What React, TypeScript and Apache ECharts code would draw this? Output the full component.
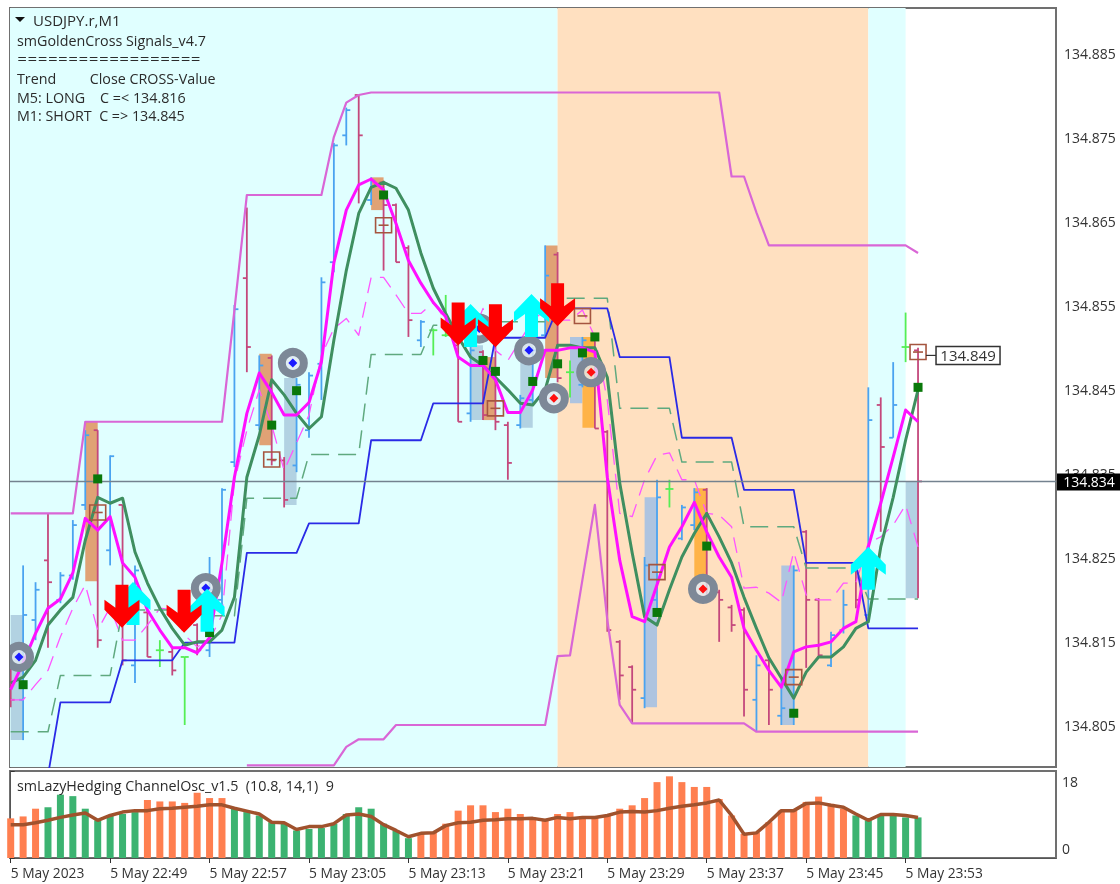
import React, { useEffect, useRef } from "react";
import * as echarts from "echarts";

const FONT = '"Open Sans", "Noto Sans", sans-serif';

const timeLabels = ["5 May 2023", "5 May 22:49", "5 May 22:57", "5 May 23:05", "5 May 23:13", "5 May 23:21", "5 May 23:29", "5 May 23:37", "5 May 23:45", "5 May 23:53"];
const timeTicks = [0, 8, 16, 24, 32, 40, 48, 56, 64, 72];
const priceTicks = [134.805, 134.815, 134.825, 134.835, 134.845, 134.855, 134.865, 134.875, 134.885];
const legendLines = ["smGoldenCross Signals_v4.7", "==================", "Trend         Close CROSS-Value", "M5: LONG    C =< 134.816", "M1: SHORT  C => 134.845"];

const candleKinds = ["R","B","B","R","B","B","B","R","B","R","B","R","G","R","G","R","B","B","B","R","B","R","R","B","B","B","B","B","R","B","R","R","R","B","G","G","R","B","R","R","R","B","B","B","R","G","B","R","R","R","R","B","B","G","B","B","R","R","R","R","B","R","B","B","R","R","B","B","R","B","R","B","G","R"];
const candleHigh = [134.8124,134.8240,134.8220,134.8302,134.8232,134.8294,134.8401,134.8401,134.8371,134.8312,134.8240,134.8187,134.8151,134.8142,134.8131,134.8171,134.8250,134.8332,134.8550,134.8666,134.8490,134.8490,134.8369,134.8463,134.8470,134.8583,134.8743,134.8785,134.8800,134.8702,134.8698,134.8671,134.8621,134.8532,134.8522,134.8562,134.8506,134.8502,134.8496,134.8512,134.8411,134.8443,134.8500,134.8621,134.8613,134.8484,134.8512,134.8512,134.8401,134.8151,134.8121,134.8250,134.8342,134.8342,134.8312,134.8332,134.8332,134.8211,134.8193,134.8190,134.8133,134.8131,134.8107,134.8240,134.8282,134.8201,134.8161,134.8211,134.8238,134.8452,134.8440,134.8482,134.8541,134.8499];
const candleLow = [134.8071,134.8032,134.8151,134.8142,134.8195,134.8223,134.8306,134.8142,134.8240,134.8121,134.8100,134.8131,134.8119,134.8109,134.8050,134.8133,134.8131,134.8190,134.8357,134.8470,134.8401,134.8359,134.8309,134.8351,134.8392,134.8437,134.8589,134.8740,134.8671,134.8669,134.8591,134.8601,134.8512,134.8500,134.8490,134.8512,134.8411,134.8411,134.8413,134.8401,134.8342,134.8403,134.8433,134.8512,134.8458,134.8440,134.8452,134.8403,134.8161,134.8080,134.8052,134.8070,134.8187,134.8309,134.8270,134.8282,134.8199,134.8149,134.8161,134.8060,134.8042,134.8050,134.8050,134.8050,134.8118,134.8130,134.8119,134.8159,134.8189,134.8175,134.8280,134.8392,134.8482,134.8201];
const candleOpen = [134.8115,134.8080,134.8175,134.8246,134.8199,134.8228,134.8312,134.8401,134.8258,134.8312,134.8121,134.8184,134.8139,134.8137,134.8131,134.8169,134.8139,134.8199,134.8363,134.8582,134.8407,134.8487,134.8365,134.8359,134.8401,134.8480,134.8601,134.8752,134.8800,134.8675,134.8696,134.8669,134.8618,134.8508,134.8520,134.8514,134.8502,134.8421,134.8494,134.8508,134.8407,134.8407,134.8437,134.8514,134.8610,134.8470,134.8455,134.8508,134.8399,134.8149,134.8119,134.8082,134.8199,134.8331,134.8272,134.8288,134.8330,134.8208,134.8190,134.8187,134.8080,134.8127,134.8061,134.8062,134.8280,134.8199,134.8121,134.8163,134.8234,134.8181,134.8431,134.8392,134.8500,134.8496];
const candleClose = [134.8080,134.8181,134.8211,134.8220,134.8228,134.8288,134.8395,134.8151,134.8370,134.8127,134.8234,134.8131,134.8139,134.8115,134.8131,134.8139,134.8211,134.8330,134.8545,134.8500,134.8478,134.8365,134.8318,134.8455,134.8466,134.8577,134.8740,134.8782,134.8752,134.8698,134.8669,134.8601,134.8532,134.8530,134.8520,134.8514,134.8411,134.8496,134.8419,134.8411,134.8362,134.8439,134.8496,134.8585,134.8463,134.8470,134.8508,134.8403,134.8163,134.8109,134.8092,134.8240,134.8321,134.8331,134.8309,134.8327,134.8226,134.8199,134.8169,134.8092,134.8121,134.8092,134.8070,134.8234,134.8199,134.8133,134.8157,134.8193,134.8199,134.8413,134.8381,134.8431,134.8500,134.8340];

const fastLine = [134.8092,134.8124,134.8159,134.8189,134.8200,134.8231,134.8296,134.8282,134.8298,134.8243,134.8226,134.8187,134.8163,134.8142,134.8142,134.8136,134.8154,134.8243,134.8345,134.8421,134.8469,134.8446,134.8419,134.8419,134.8434,134.8482,134.8600,134.8663,134.8693,134.8700,134.8687,134.8647,134.8603,134.8576,134.8553,134.8536,134.8488,134.8478,134.8478,134.8461,134.8422,134.8422,134.8449,134.8496,134.8496,134.8499,134.8499,134.8494,134.8345,134.8246,134.8179,134.8173,134.8217,134.8262,134.8286,134.8315,134.8280,134.8250,134.8226,134.8165,134.8139,134.8115,134.8095,134.8137,134.8143,134.8145,134.8149,134.8165,134.8173,134.8262,134.8314,134.8369,134.8425,134.8411];
const slowLine = [134.8100,134.8107,134.8127,134.8169,134.8187,134.8202,134.8270,134.8321,134.8314,134.8320,134.8256,134.8219,134.8189,134.8165,134.8145,134.8149,134.8149,134.8163,134.8202,134.8345,134.8395,134.8461,134.8443,134.8421,134.8403,134.8417,134.8508,134.8591,134.8659,134.8690,134.8696,134.8689,134.8663,134.8612,134.8570,134.8540,134.8512,134.8488,134.8478,134.8464,134.8449,134.8433,134.8431,134.8449,134.8502,134.8502,134.8499,134.8499,134.8464,134.8338,134.8255,134.8179,134.8169,134.8211,134.8250,134.8278,134.8302,134.8274,134.8243,134.8202,134.8165,134.8130,134.8106,134.8082,134.8113,134.8131,134.8131,134.8143,134.8165,134.8173,134.8262,134.8321,134.8389,134.8449];
const midDashLine = [134.8080,134.8080,134.8098,134.8115,134.8155,134.8189,134.8217,134.8163,134.8190,134.8151,134.8151,134.8169,134.8189,134.8187,134.8157,134.8143,134.8151,134.8181,134.8339,134.8401,134.8449,134.8407,134.8353,134.8386,134.8419,134.8490,134.8522,134.8534,134.8514,134.8583,134.8583,134.8562,134.8540,134.8540,134.8553,134.8532,134.8520,134.8508,134.8546,134.8496,134.8484,134.8508,134.8532,134.8544,134.8532,134.8532,134.8544,134.8512,134.8437,134.8302,134.8298,134.8342,134.8371,134.8374,134.8342,134.8342,134.8302,134.8300,134.8286,134.8213,134.8214,134.8207,134.8196,134.8256,134.8205,134.8199,134.8199,134.8219,134.8219,134.8267,134.8274,134.8288,134.8312,134.8262];
const blueStep = [null,null,null,134.7990,134.8077,134.8077,134.8077,134.8077,134.8077,134.8127,134.8127,134.8127,134.8127,134.8127,134.8148,134.8148,134.8148,134.8148,134.8148,134.8255,134.8255,134.8255,134.8255,134.8255,134.8290,134.8290,134.8290,134.8290,134.8290,134.8389,134.8389,134.8389,134.8389,134.8389,134.8433,134.8433,134.8433,134.8433,134.8433,134.8511,134.8511,134.8511,134.8511,134.8511,134.8546,134.8546,134.8546,134.8546,134.8546,134.8488,134.8488,134.8488,134.8488,134.8488,134.8392,134.8392,134.8392,134.8392,134.8392,134.8330,134.8330,134.8330,134.8330,134.8330,134.8243,134.8243,134.8243,134.8243,134.8243,134.8165,134.8165,134.8165,134.8165,134.8165];
const greenStep = [134.8042,134.8042,134.8042,134.8042,134.8109,134.8109,134.8109,134.8109,134.8109,134.8187,134.8187,134.8187,134.8187,134.8187,134.8180,134.8180,134.8180,134.8180,134.8180,134.8320,134.8320,134.8320,134.8320,134.8320,134.8372,134.8372,134.8372,134.8372,134.8372,134.8491,134.8491,134.8491,134.8491,134.8491,134.8526,134.8526,134.8526,134.8526,134.8526,134.8530,134.8530,134.8530,134.8530,134.8530,134.8558,134.8558,134.8558,134.8558,134.8558,134.8427,134.8427,134.8427,134.8427,134.8427,134.8363,134.8363,134.8363,134.8363,134.8363,134.8286,134.8286,134.8286,134.8286,134.8286,134.8237,134.8237,134.8237,134.8237,134.8237,134.8200,134.8200,134.8200,134.8200,134.8200];
const upperChannel = [134.8302,134.8302,134.8302,134.8302,134.8302,134.8302,134.8411,134.8411,134.8411,134.8411,134.8411,134.8411,134.8411,134.8411,134.8411,134.8411,134.8411,134.8411,134.8544,134.8681,134.8681,134.8681,134.8681,134.8681,134.8681,134.8681,134.8750,134.8791,134.8800,134.8803,134.8803,134.8803,134.8803,134.8803,134.8803,134.8803,134.8803,134.8803,134.8803,134.8803,134.8803,134.8803,134.8803,134.8803,134.8803,134.8803,134.8803,134.8803,134.8803,134.8803,134.8803,134.8803,134.8803,134.8803,134.8803,134.8803,134.8803,134.8803,134.8703,134.8703,134.8660,134.8621,134.8621,134.8621,134.8621,134.8621,134.8621,134.8621,134.8621,134.8621,134.8621,134.8621,134.8621,134.8612];
const lowerChannel = [null,null,null,null,null,null,null,null,null,null,null,null,null,null,null,null,null,null,null,134.8002,134.8002,134.8002,134.8002,134.8002,134.8002,134.8002,134.8002,134.8024,134.8033,134.8033,134.8033,134.8050,134.8050,134.8050,134.8050,134.8050,134.8050,134.8050,134.8050,134.8050,134.8050,134.8050,134.8050,134.8050,134.8132,134.8133,134.8223,134.8312,134.8175,134.8074,134.8052,134.8052,134.8052,134.8052,134.8052,134.8052,134.8052,134.8052,134.8052,134.8052,134.8042,134.8042,134.8042,134.8042,134.8042,134.8042,134.8042,134.8042,134.8042,134.8042,134.8042,134.8042,134.8042,134.8042];

const bandStart = [-1, 44, 69];
const bandEnd = [44, 69, 72];
const bandKind = ["cyan", "peach", "cyan"];

const boxStart = [0, 6, 20, 22, 29, 37, 38, 41, 43, 45, 46, 51, 55, 62, 72];
const boxEnd = [1, 7, 21, 23, 30, 38, 39, 42, 44, 46, 47, 52, 56, 63, 73];
const boxTop = [134.8181, 134.8411, 134.8492, 134.8463, 134.8702, 134.8502, 134.8488, 134.8504, 134.8621, 134.8512, 134.8512, 134.8321, 134.8332, 134.8240, 134.8340];
const boxBottom = [134.8032, 134.8221, 134.8383, 134.8312, 134.8663, 134.8413, 134.8413, 134.8404, 134.8463, 134.8433, 134.8404, 134.8071, 134.8226, 134.8050, 134.8201];
const boxKind = ["blueA", "orangeA", "orangeA", "blueA", "orangeA", "blueA", "orangeA", "blueA", "orangeA", "blueB", "orangeB", "blueB", "orangeB", "blueB", "blueA"];

const dotIndex = [1, 7, 21, 23, 30, 38, 39, 42, 44, 46, 47, 52, 56, 63, 73, 16];
const dotPrice = [134.8098, 134.8343, 134.8407, 134.8448, 134.8681, 134.8484, 134.8471, 134.8459, 134.8480, 134.8493, 134.8512, 134.8184, 134.8263, 134.8064, 134.8452, 134.8160];

const hollowIndex = [7, 21, 30, 39, 46, 52, 63, 73];
const hollowPrice = [134.8303, 134.8366, 134.8645, 134.8427, 134.8537, 134.8232, 134.8107, 134.8494];

const ringIndex = [0.67, 15.7, 22.7, 37.7, 41.7, 43.7, 46.7, 55.7];
const ringPrice = [134.8131, 134.8213, 134.8481, 134.8522, 134.8496, 134.8439, 134.8470, 134.8212];
const ringKind = ["buy", "buy", "buy", "buy", "buy", "sell", "sell", "sell"];

const upArrowIndex = [9.84, 15.8, 37, 41.9, 69];
const upArrowPrice = [134.8169, 134.8161, 134.8500, 134.8512, 134.8211];
const downArrowIndex = [8.95, 13.95, 36, 39, 44];
const downArrowPrice = [134.8217, 134.8211, 134.8553, 134.8551, 134.8576];

const oscBars = [8.2,8.6,10.2,10.5,13.1,12.8,10.2,7.8,8.8,9.1,9.5,12.0,11.7,11.7,11.4,13.5,12.4,12.4,10.2,9.5,8.8,7.4,7.1,5.7,6.0,6.2,7.1,9.1,10.5,10.2,7.1,5.7,4.1,5.0,5.3,7.1,9.8,10.9,10.9,9.5,10.2,9.1,8.4,7.8,9.1,9.5,8.4,8.4,8.8,10.2,10.9,12.4,15.7,16.9,15.7,14.7,14.7,12.2,8.8,5.0,5.3,7.4,9.8,9.8,11.6,12.7,11.2,10.2,8.8,7.8,8.8,8.8,8.4,8.4];
const oscLine = [6.9,6.9,7.3,7.8,8.4,8.9,9.3,7.8,8.8,9.5,9.8,9.8,10.2,10.3,10.5,10.7,11.0,11.0,10.3,9.7,9.1,7.4,7.3,5.9,6.5,6.5,7.1,8.9,9.1,8.6,6.9,5.7,4.4,5.1,5.2,6.7,7.3,7.4,7.8,7.9,8.1,8.1,8.2,7.8,8.4,8.1,8.4,8.4,8.8,9.5,9.6,9.5,9.8,10.3,10.7,11.0,11.4,12.0,8.8,4.9,5.2,7.4,9.8,9.8,11.3,11.4,10.9,10.5,9.1,7.8,9.0,9.0,8.8,8.4];
const oscRising = [0,0,0,1,1,1,1,1,1,1,1,0,0,0,0,0,0,0,1,1,1,1,1,1,1,1,1,1,1,1,1,1,1,0,0,0,0,0,0,0,0,0,0,0,0,0,0,0,0,0,0,0,0,0,0,0,0,0,0,0,0,0,0,0,0,0,0,0,1,1,1,1,1,1];

const X_MIN = -0.056;
const X_MAX = 84.1;
const LAST_PRICE = 134.849;
const BID_PRICE = 134.834;

const CANDLE_COLOR: Record<string, string> = { B: "#4aa3f0", R: "#c4487c", G: "#55ee55" };
const BOX_COLOR: Record<string, string> = { blueA: "#b2d2e2", blueB: "#aec4e0", orangeA: "#e0a275", orangeB: "#ffb347" };
const BAND_COLOR: Record<string, string> = { cyan: "#e0ffff", peach: "#ffe0c0" };

const byBar = (ys: any[]) => ys.map((y, i) => [i, y]);

const line = (data: any[], color: string, width: number, z: number, type: any = "solid") => ({
  type: "line", data: byBar(data), xAxisIndex: 0, yAxisIndex: 0, showSymbol: false, symbol: "none", silent: true, z,
  lineStyle: { color, width, type, join: "round" },
});

const custom = (data: any[], renderItem: any, z: number, clip = true) => ({
  type: "custom", data, xAxisIndex: 0, yAxisIndex: 0, renderItem, silent: true, z, clip, encode: { x: 0, y: 1 },
});

const renderBand = (params: any, api: any) => {
  const i = params.dataIndex;
  const cs = params.coordSys;
  const a = api.coord([bandStart[i], 134.85])[0];
  const b = api.coord([bandEnd[i], 134.85])[0];
  const left = Math.max(a, cs.x);
  return { type: "rect", shape: { x: left, y: cs.y, width: b - left, height: cs.height }, style: { fill: BAND_COLOR[bandKind[i]] } };
};

const renderBox = (params: any, api: any) => {
  const i = params.dataIndex;
  const p0 = api.coord([boxStart[i], boxTop[i]]);
  const p1 = api.coord([boxEnd[i], boxBottom[i]]);
  return { type: "rect", shape: { x: p0[0], y: p0[1], width: p1[0] - p0[0], height: p1[1] - p0[1] }, style: { fill: BOX_COLOR[boxKind[i]] } };
};

const renderCandle = (params: any, api: any) => {
  const i = params.dataIndex;
  const color = CANDLE_COLOR[candleKinds[i]];
  const hi = api.coord([i, candleHigh[i]]);
  const lo = api.coord([i, candleLow[i]]);
  const op = api.coord([i, candleOpen[i]]);
  const cl = api.coord([i, candleClose[i]]);
  const style = { stroke: color, lineWidth: 1.8 };
  return {
    type: "group",
    children: [
      { type: "line", shape: { x1: hi[0], y1: hi[1], x2: lo[0], y2: lo[1] }, style },
      { type: "line", shape: { x1: op[0] - 4, y1: op[1], x2: op[0], y2: op[1] }, style },
      { type: "line", shape: { x1: cl[0], y1: cl[1], x2: cl[0] + 4, y2: cl[1] }, style },
    ],
  };
};

const renderDot = (params: any, api: any) => {
  const p = api.coord([dotIndex[params.dataIndex], dotPrice[params.dataIndex]]);
  return { type: "rect", shape: { x: p[0] - 4.5, y: p[1] - 4.5, width: 9, height: 9 }, style: { fill: "#0a780a" } };
};

const renderHollow = (params: any, api: any) => {
  const p = api.coord([hollowIndex[params.dataIndex], hollowPrice[params.dataIndex]]);
  const style = { stroke: "#a5553f", lineWidth: 1.6, fill: "none" };
  return {
    type: "group",
    children: [
      { type: "rect", shape: { x: p[0] - 8, y: p[1] - 7.5, width: 16, height: 15 }, style },
      { type: "line", shape: { x1: p[0] - 5, y1: p[1], x2: p[0] + 5, y2: p[1] }, style },
    ],
  };
};

const renderRing = (params: any, api: any) => {
  const i = params.dataIndex;
  const p = api.coord([ringIndex[i], ringPrice[i]]);
  const fill = ringKind[i] === "buy" ? "#1a1aff" : "#ff1010";
  return {
    type: "group",
    children: [
      { type: "circle", shape: { cx: p[0], cy: p[1], r: 11 }, style: { fill: "rgba(225,232,240,0.8)", stroke: "#7d8897", lineWidth: 8 } },
      { type: "polygon", shape: { points: [[p[0], p[1] - 4.5], [p[0] + 4.5, p[1]], [p[0], p[1] + 4.5], [p[0] - 4.5, p[1]]] }, style: { fill } },
    ],
  };
};

const ARROW = [[0, -43], [17.5, -25], [17.5, -15], [6.5, -23], [6.5, 0], [-6.5, 0], [-6.5, -23], [-17.5, -15], [-17.5, -25]];
const renderUp = (params: any, api: any) => {
  const i = params.dataIndex;
  const p = api.coord([upArrowIndex[i], upArrowPrice[i]]);
  return { type: "polygon", shape: { points: ARROW.map(([x, y]) => [p[0] + x, p[1] + y]) }, style: { fill: "#00ffff" } };
};
const renderDown = (params: any, api: any) => {
  const i = params.dataIndex;
  const p = api.coord([downArrowIndex[i], downArrowPrice[i]]);
  return { type: "polygon", shape: { points: ARROW.map(([x, y]) => [p[0] + x, p[1] - y]) }, style: { fill: "#ff0000" } };
};

const renderLastTag = (_params: any, api: any) => {
  const p = api.coord([73, LAST_PRICE]);
  return {
    type: "group",
    children: [
      { type: "line", shape: { x1: p[0] + 8, y1: p[1], x2: p[0] + 18, y2: p[1] }, style: { stroke: "#333", lineWidth: 1.2 } },
      { type: "rect", shape: { x: p[0] + 18, y: p[1] - 9, width: 64, height: 18 }, style: { fill: "#fff", stroke: "#333", lineWidth: 1.5 } },
      { type: "text", x: p[0] + 50, y: p[1], style: { text: LAST_PRICE.toFixed(3), fill: "#333", font: `15px ${FONT}`, align: "center", verticalAlign: "middle" } },
    ],
  };
};

const renderBidTag = (params: any, api: any) => {
  const y = api.coord([0, BID_PRICE])[1];
  const x = params.coordSys.x + params.coordSys.width + 1;
  return {
    type: "group",
    children: [
      { type: "rect", shape: { x, y: y - 8, width: 64, height: 17 }, style: { fill: "#000" } },
      { type: "text", x: x + 32, y: y + 0.5, style: { text: BID_PRICE.toFixed(3), fill: "#fff", font: `14px ${FONT}`, align: "center", verticalAlign: "middle" } },
    ],
  };
};

const textEl = (text: string, x: number, y: number, font = `14.3px ${FONT}`) => ({
  type: "text", x, y, z: 100, silent: true,
  style: { text, fill: "#2b2b2b", font, verticalAlign: "middle" },
});

const buildOption = () => ({
  animation: false,
  backgroundColor: "#fff",
  grid: [
    { left: 10, top: 8, width: 1046, height: 759, show: true, backgroundColor: "#fff", borderColor: "#707070", borderWidth: 2 },
    { left: 10, top: 771, width: 1046, height: 87, show: true, backgroundColor: "#fff", borderColor: "#707070", borderWidth: 2 },
  ],
  xAxis: [
    { type: "value", gridIndex: 0, min: X_MIN, max: X_MAX, show: false, splitLine: { show: false } },
    {
      type: "value", gridIndex: 1, min: X_MIN, max: X_MAX, splitLine: { show: false },
      axisLine: { show: true, lineStyle: { color: "#555" } },
      axisTick: { show: true, length: 5, lineStyle: { color: "#333" }, customValues: timeTicks },
      axisLabel: {
        customValues: timeTicks, align: "left", margin: 7, color: "#333", fontFamily: "Open Sans", fontSize: 13.8,
        formatter: (v: number) => timeLabels[timeTicks.indexOf(Math.round(v))] ?? "",
      },
    },
  ],
  yAxis: [
    {
      type: "value", gridIndex: 0, position: "right", min: 134.8, max: 134.89036, splitLine: { show: false },
      axisLine: { show: true, lineStyle: { color: "#555" } },
      axisTick: { show: true, length: 5, lineStyle: { color: "#333" }, customValues: priceTicks },
      axisLabel: { customValues: priceTicks, margin: 8, color: "#333", fontFamily: "Open Sans", fontSize: 14, formatter: (v: number) => v.toFixed(3) },
    },
    {
      type: "value", gridIndex: 1, position: "right", min: 0, max: 18, splitLine: { show: false },
      axisLine: { show: true, lineStyle: { color: "#555" } },
      axisTick: { show: true, length: 4, lineStyle: { color: "#333" }, customValues: [0, 18] },
      axisLabel: {
        customValues: [0, 18], margin: 6, color: "#333", fontFamily: "Open Sans", fontSize: 14,
        verticalAlignMinLabel: "bottom", verticalAlignMaxLabel: "top", padding: [3, 0, 3, 0],
      },
    },
  ],
  graphic: [
    { type: "polygon", z: 100, silent: true, shape: { points: [[15, 17], [25, 17], [20, 22]] }, style: { fill: "#111" } },
    textEl("USDJPY.r,M1", 33, 20, `15px ${FONT}`),
    ...legendLines.map((t, i) => textEl(t, 17, [40, 59, 78, 97, 115][i], i === 1 ? '12.2px "DejaVu Sans"' : undefined)),
    textEl("smLazyHedging ChannelOsc_v1.5  (10.8, 14,1)  9", 17, 785),
  ],
  series: [
    custom(bandStart.map((s) => [s, 134.85]), renderBand, 1),
    custom(boxStart.map((s, i) => [s, boxTop[i]]), renderBox, 2),
    custom(candleHigh.map((h, i) => [i, h]), renderCandle, 3),
    line(upperChannel, "#d966d6", 2.2, 4),
    line(lowerChannel, "#d966d6", 2.2, 4),
    line(midDashLine, "#ff55ff", 1.3, 4, [16, 9]),
    line(greenStep, "#5fa97f", 1.5, 4, [18, 9]),
    line(blueStep, "#2a2ae6", 1.8, 4),
    {
      type: "line", data: [[X_MIN, BID_PRICE], [X_MAX, BID_PRICE]], xAxisIndex: 0, yAxisIndex: 0, symbol: "none", silent: true, z: 5,
      lineStyle: { color: "#74828f", width: 1.5 },
    },
    line(slowLine, "#3f8f60", 3, 6),
    line(fastLine, "#ff10ff", 3, 7),
    custom(hollowIndex.map((x, i) => [x, hollowPrice[i]]), renderHollow, 8),
    custom(ringIndex.map((x, i) => [x, ringPrice[i]]), renderRing, 8),
    custom(dotIndex.map((x, i) => [x, dotPrice[i]]), renderDot, 9),
    custom(upArrowIndex.map((x, i) => [x, upArrowPrice[i]]), renderUp, 10),
    custom(downArrowIndex.map((x, i) => [x, downArrowPrice[i]]), renderDown, 11),
    custom([[73, LAST_PRICE]], renderLastTag, 12, false),
    custom([[0, BID_PRICE]], renderBidTag, 12, false),
    {
      type: "bar", xAxisIndex: 1, yAxisIndex: 1, barWidth: 7, silent: true, z: 3,
      data: byBar(oscBars).map((d, i) => ({ value: d, itemStyle: { color: oscRising[i] ? "#3cb371" : "#ff7f50" } })),
    },
    {
      type: "line", xAxisIndex: 1, yAxisIndex: 1, data: byBar(oscLine), symbol: "none", silent: true, z: 4,
      lineStyle: { color: "#a0522d", width: 3.5 },
    },
  ],
});

export default function App() {
  const ref = useRef<HTMLDivElement>(null);
  useEffect(() => {
    document.body.style.margin = "0";
    const chart = echarts.init(ref.current!, null, { renderer: "svg", width: 1120, height: 884 });
    chart.setOption(buildOption() as any);
    return () => chart.dispose();
  }, []);
  return <div ref={ref} style={{ width: 1120, height: 884, filter: "blur(0.6px)" }} />;
}
